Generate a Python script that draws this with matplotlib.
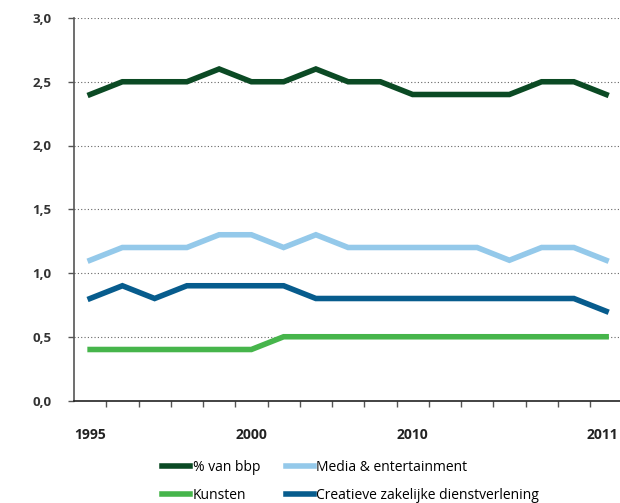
import matplotlib.pyplot as plt
import matplotlib.transforms as mtransforms
from matplotlib.ticker import FixedLocator

jaren = list(range(1995, 2012))
bbp = [2.4, 2.5, 2.5, 2.5, 2.6, 2.5, 2.5, 2.6, 2.5, 2.5, 2.4, 2.4, 2.4, 2.4, 2.5, 2.5, 2.4]
media = [1.1, 1.2, 1.2, 1.2, 1.3, 1.3, 1.2, 1.3, 1.2, 1.2, 1.2, 1.2, 1.2, 1.1, 1.2, 1.2, 1.1]
creatief = [0.8, 0.9, 0.8, 0.9, 0.9, 0.9, 0.9, 0.8, 0.8, 0.8, 0.8, 0.8, 0.8, 0.8, 0.8, 0.8, 0.7]
kunsten = [0.4, 0.4, 0.4, 0.4, 0.4, 0.4, 0.5, 0.5, 0.5, 0.5, 0.5, 0.5, 0.5, 0.5, 0.5, 0.5, 0.5]

# labels zoals in het origineel (posities 0, 5, 10, 16)
x_label_pos = [0, 5, 10, 16]
x_labels = ['1995', '2000', '2010', '2011']
y_ticks = [0.0, 0.5, 1.0, 1.5, 2.0, 2.5, 3.0]

plt.rcParams['font.family'] = ['Open Sans', 'DejaVu Sans']

fig = plt.figure(figsize=(6.2, 5.03), dpi=100)
ax = fig.add_axes([74 / 620, 102.5 / 503, 546 / 620, 382.5 / 503])

x = list(range(len(jaren)))
lw = 4.0
l_bbp, = ax.plot(x, bbp, color='#0b4a24', lw=lw, solid_joinstyle='miter', label='% van bbp')
l_media, = ax.plot(x, media, color='#94c9ea', lw=lw, solid_joinstyle='miter', label='Media & entertainment')
l_creatief, = ax.plot(x, creatief, color='#075c8d', lw=lw, solid_joinstyle='miter',
                      label='Creatieve zakelijke dienstverlening')
l_kunsten, = ax.plot(x, kunsten, color='#46b54b', lw=lw, solid_joinstyle='miter', label='Kunsten')

ax.set_xlim(-0.5, 16.43)
ax.set_ylim(0, 3.0)

ax.set_yticks(y_ticks)
ax.set_yticklabels([f'{v:.1f}'.replace('.', ',') for v in y_ticks],
                   fontsize=9.5, fontweight='bold', color='#333333')
ax.tick_params(axis='y', length=4, width=1, color='#555555', pad=12)

ax.set_xticks(x_label_pos)
ax.set_xticklabels(x_labels, fontsize=10, fontweight='bold', color='#222222')
ax.tick_params(axis='x', which='major', length=0, pad=20)
ax.xaxis.set_minor_locator(FixedLocator([i - 0.5 for i in range(1, 17)]))
ax.tick_params(axis='x', which='minor', length=4, width=1, color='#555555', direction='out')

# laatste label iets naar links zodat het binnen de rand valt
last = ax.get_xticklabels()[-1]
last.set_transform(last.get_transform() +
                   mtransforms.ScaledTranslation(-4 / 100, 0, fig.dpi_scale_trans))

for v in y_ticks[1:]:
    ax.axhline(v, color='#666666', lw=0.8, ls=(0, (1, 2)), zorder=0)

for s in ['top', 'right']:
    ax.spines[s].set_visible(False)
ax.spines['left'].set_color('#555555')
ax.spines['bottom'].set_color('#222222')
ax.spines['left'].set_linewidth(1.2)
ax.spines['bottom'].set_linewidth(1.2)

fig.legend([l_bbp, l_kunsten, l_media, l_creatief],
           ['% van bbp', 'Kunsten', 'Media & entertainment', 'Creatieve zakelijke dienstverlening'],
           ncol=2, loc='upper left', bbox_to_anchor=(162 / 620, 1 - 460 / 503),
           frameon=False, fontsize=10, handlelength=2.0, handletextpad=0.2,
           columnspacing=1.85, labelspacing=0.95, borderpad=0, borderaxespad=0)

fig.savefig('out.png', dpi=100)
